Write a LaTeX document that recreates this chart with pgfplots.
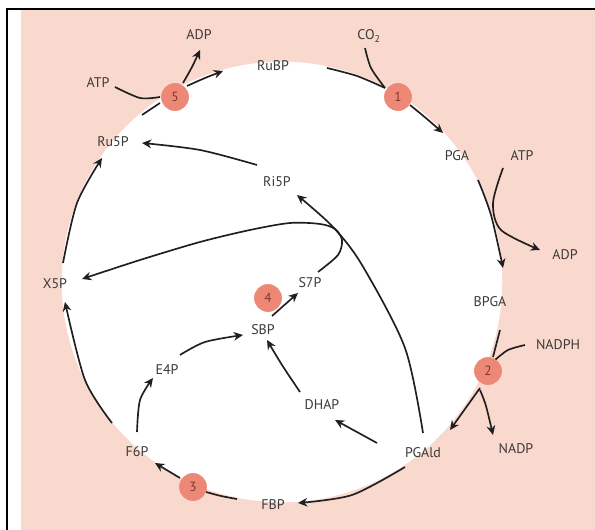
\documentclass[border=0pt]{standalone}
\usepackage{fontspec}
\setmainfont{PT Sans}
\usepackage{pgfplots}
\pgfplotsset{compat=1.18}
\usetikzlibrary{arrows.meta}
\definecolor{bgpink}{RGB}{249,217,205}
\definecolor{enz}{RGB}{238,136,118}
\definecolor{txt}{RGB}{58,58,58}
\definecolor{num}{RGB}{130,55,40}
\tikzset{
  arr/.style={black!88, line width=1.25pt, smooth, -{Stealth[length=7pt,width=6.5pt]}},
  lin/.style={black!88, line width=1.25pt, smooth},
  lab/.style={font=\fontsize{10.5}{12}\selectfont, text=txt, inner sep=0pt}}
\pgfplotsset{diag/.style={scale only axis, width=446.25pt, height=397.5pt,
  xmin=0, xmax=595, ymin=0, ymax=530, axis lines=none, ticks=none, clip=false}}
\begin{document}
\begin{tikzpicture}
% background axis
\begin{axis}[diag, name=bg]
\addplot[fill=bgpink, draw=none] coordinates {(21,0) (595,0) (595,520) (21,520)};
\addplot[white, only marks, mark=*, mark size=165pt] coordinates {(282,248)};
\addplot[black, line width=1.6pt] coordinates {(7,0) (7,522)};
\addplot[black, line width=1.6pt] coordinates {(6,521) (595,521)};
\end{axis}
% diagram axis
\begin{axis}[diag]
\addplot[lin] coordinates {(115,443) (140,432) (160,433)};
\addplot[arr] coordinates {(183,447) (192,463) (200,480)};
\addplot[arr] coordinates {(187,444) (205,452) (223,459)};
\addplot[lin] coordinates {(142,415) (160,427)};
\addplot[lin] coordinates {(327,462) (357,454) (385,442)};
\addplot[lin] coordinates {(365,482) (371,462) (385,442)};
\addplot[arr] coordinates {(410,425) (427,411) (443,397)};
\addplot[arr] coordinates {(478,350) (491,315) (503,262)};
\addplot[arr] coordinates {(503,362) (493,327) (501,300) (540,280)};
\addplot[lin] coordinates {(500,200) (493,173)};
\addplot[lin] coordinates {(525,185) (508,180) (495,170)};
\addplot[arr] coordinates {(480,142) (450,100)};
\addplot[arr] coordinates {(480,140) (486,124) (493,95)};
\addplot[arr] coordinates {(377,87) (335,110)};
\addplot[arr] coordinates {(405,63) (352,35) (298,27)};
\addplot[arr] coordinates {(423,97) (405,182) (362,265) (333,303) (297,335)};
\addplot[arr] coordinates {(318,258) (338,275) (342,290) (335,301) (320,306) (290,307) (250,300) (200,288) (140,270) (82,251)};
\addplot[arr] coordinates {(257,365) (200,380) (142,387)};
\addplot[arr] coordinates {(63,267) (77,327) (102,372)};
\addplot[arr] coordinates {(112,107) (85,150) (65,228)};
\addplot[arr] coordinates {(137,98) (140,130) (153,152)};
\addplot[arr] coordinates {(180,175) (205,188) (243,195)};
\addplot[arr] coordinates {(300,138) (282,165) (267,190)};
\addplot[arr] coordinates {(272,214) (298,237)};
\addplot[arr] coordinates {(180,52) (155,67)};
\addplot[lin] coordinates {(237,31) (221,34) (206,38)};
% enzymes
\addplot[enz, only marks, mark=*, mark size=10.2pt,
  nodes near coords, point meta=explicit symbolic,
  every node near coord/.style={anchor=center, font=\fontsize{10}{11}\selectfont, text=num}]
  coordinates {(175,433)[5] (398,433)[1] (488,159)[2] (193,43)[3] (268,232)[4]};
% labels
\node[lab] at (axis cs:199,495) {ADP};
\node[lab] at (axis cs:98,447) {ATP};
\node[lab] at (axis cs:273,464) {RuBP};
\node[lab] at (axis cs:369,494) {CO\textsubscript{2}};
\node[lab] at (axis cs:113,388) {Ru5P};
\node[lab] at (axis cs:277,348) {Ri5P};
\node[lab] at (axis cs:457,374) {PGA};
\node[lab] at (axis cs:522,374) {ATP};
\node[lab] at (axis cs:565,275) {ADP};
\node[lab] at (axis cs:490,228) {BPGA};
\node[lab] at (axis cs:558,185) {NADPH};
\node[lab] at (axis cs:516,81) {NADP};
\node[lab] at (axis cs:423,77) {PGAld};
\node[lab] at (axis cs:322,125) {DHAP};
\node[lab] at (axis cs:310,247) {S7P};
\node[lab] at (axis cs:263,200) {SBP};
\node[lab] at (axis cs:167,160) {E4P};
\node[lab] at (axis cs:55,246) {X5P};
\node[lab] at (axis cs:137,78) {F6P};
\node[lab] at (axis cs:273,25) {FBP};
\end{axis}
\pgfresetboundingbox
\useasboundingbox (bg.south west) rectangle (bg.north east);
\end{tikzpicture}
\end{document}
